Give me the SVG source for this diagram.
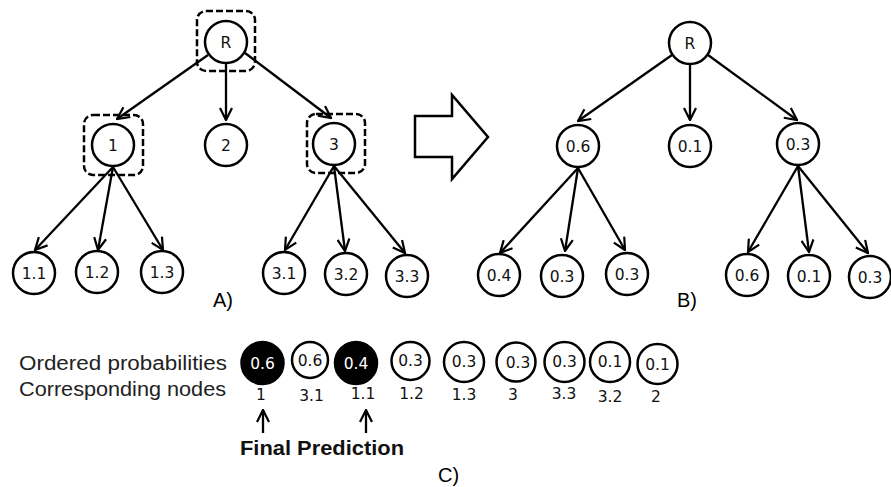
<svg xmlns="http://www.w3.org/2000/svg" width="891" height="487" viewBox="0 0 891 487">
<defs>
<marker id="arr" viewBox="0 0 14 14" refX="13" refY="7" markerWidth="14" markerHeight="14" markerUnits="userSpaceOnUse" orient="auto">
<path d="M1,1 L13,7 L1,13" fill="none" stroke="#000" stroke-width="2.2"/>
</marker>
<style>
.n{fill:#fff;stroke:#000;stroke-width:2.5}
.b{fill:#000;stroke:#000;stroke-width:2.5}
.t{font-family:"DejaVu Sans",sans-serif;font-size:15.5px;text-anchor:middle;fill:#111}
.w{font-family:"DejaVu Sans",sans-serif;font-size:15.5px;text-anchor:middle;fill:#fff}
.e{stroke:#000;stroke-width:2.3;fill:none;marker-end:url(#arr)}
.d{fill:none;stroke:#000;stroke-width:2.5;stroke-dasharray:7 3}
.lab{font-family:"Liberation Sans",Arial,sans-serif;font-size:20px;fill:#000}
.cap{font-family:"Liberation Sans",Arial,sans-serif;font-size:20px;fill:#222}
</style>
</defs>
<rect width="891" height="487" fill="#fff"/>

<g id="connectors">
<line class="e" x1="208" y1="55" x2="117" y2="119"/>
<line class="e" x1="226" y1="64" x2="226" y2="120"/>
<line class="e" x1="245" y1="53" x2="331" y2="118"/>
<line class="e" x1="113" y1="167" x2="35" y2="250"/>
<line class="e" x1="113" y1="167" x2="98" y2="250"/>
<line class="e" x1="113" y1="167" x2="163" y2="250"/>
<line class="e" x1="334" y1="166" x2="285" y2="250"/>
<line class="e" x1="334" y1="166" x2="345" y2="251"/>
<line class="e" x1="334" y1="166" x2="405" y2="253"/>
<line class="e" x1="672" y1="55" x2="578" y2="121"/>
<line class="e" x1="690" y1="65" x2="690" y2="120"/>
<line class="e" x1="708" y1="55" x2="797" y2="120"/>
<line class="e" x1="578" y1="168" x2="500" y2="253"/>
<line class="e" x1="578" y1="168" x2="565" y2="251"/>
<line class="e" x1="578" y1="168" x2="625" y2="250"/>
<line class="e" x1="798" y1="166" x2="748" y2="252"/>
<line class="e" x1="798" y1="166" x2="809" y2="252"/>
<line class="e" x1="798" y1="166" x2="868" y2="253"/>
<line class="e" x1="263" y1="433" x2="263" y2="410"/>
<line class="e" x1="366" y1="433" x2="366" y2="410"/>
</g>

<g id="highlights">
<rect class="d" x="197" y="11" width="58" height="60" rx="9"/>
<rect class="d" x="84" y="115" width="59" height="60" rx="9"/>
<rect class="d" x="307" y="114" width="58" height="59" rx="9"/>
</g>

<g id="A_R"><circle class="n" cx="226" cy="42" r="21"/><text class="t" x="226" y="47.5">R</text></g>
<g id="A_1"><circle class="n" cx="113" cy="145" r="21"/><text class="t" x="113" y="150.5">1</text></g>
<g id="A_2"><circle class="n" cx="226" cy="145" r="21"/><text class="t" x="226" y="150.5">2</text></g>
<g id="A_3"><circle class="n" cx="334" cy="144" r="21"/><text class="t" x="334" y="149.5">3</text></g>
<g id="A_1_1"><circle class="n" cx="34" cy="273" r="21"/><text class="t" x="34" y="278.5">1.1</text></g>
<g id="A_1_2"><circle class="n" cx="97" cy="272" r="21"/><text class="t" x="97" y="277.5">1.2</text></g>
<g id="A_1_3"><circle class="n" cx="162" cy="272" r="21"/><text class="t" x="162" y="277.5">1.3</text></g>
<g id="A_3_1"><circle class="n" cx="284" cy="273" r="21"/><text class="t" x="284" y="278.5">3.1</text></g>
<g id="A_3_2"><circle class="n" cx="346" cy="274" r="21"/><text class="t" x="346" y="279.5">3.2</text></g>
<g id="A_3_3"><circle class="n" cx="407" cy="276" r="21"/><text class="t" x="407" y="281.5">3.3</text></g>
<text class="lab" x="213" y="307">A)</text>

<g id="bigarrow"><polygon points="415,116 452,116 452,95 488,137 452,179 452,157 415,157" fill="#fff" stroke="#000" stroke-width="2.5"/></g>

<g id="B_R"><circle class="n" cx="690" cy="43" r="21"/><text class="t" x="690" y="48.5">R</text></g>
<g id="B_1"><circle class="n" cx="578" cy="146" r="21"/><text class="t" x="578" y="151.5">0.6</text></g>
<g id="B_2"><circle class="n" cx="690" cy="146" r="21"/><text class="t" x="690" y="151.5">0.1</text></g>
<g id="B_3"><circle class="n" cx="798" cy="144" r="21"/><text class="t" x="798" y="149.5">0.3</text></g>
<g id="B_1_1"><circle class="n" cx="499" cy="275" r="21"/><text class="t" x="499" y="280.5">0.4</text></g>
<g id="B_1_2"><circle class="n" cx="562" cy="276" r="21"/><text class="t" x="562" y="281.5">0.3</text></g>
<g id="B_1_3"><circle class="n" cx="627" cy="274" r="21"/><text class="t" x="627" y="279.5">0.3</text></g>
<g id="B_3_1"><circle class="n" cx="747" cy="275" r="21"/><text class="t" x="747" y="280.5">0.6</text></g>
<g id="B_3_2"><circle class="n" cx="809" cy="276" r="21"/><text class="t" x="809" y="281.5">0.1</text></g>
<g id="B_3_3"><circle class="n" cx="870" cy="277" r="21"/><text class="t" x="870" y="282.5">0.3</text></g>
<text class="lab" x="677" y="307">B)</text>

<g id="legend">
<text class="cap" x="19" y="370" textLength="208" lengthAdjust="spacingAndGlyphs">Ordered probabilities</text>
<text class="cap" x="19" y="396" textLength="207" lengthAdjust="spacingAndGlyphs">Corresponding nodes</text>
</g>

<g id="C_1"><circle class="b" cx="262.5" cy="363" r="21"/><text class="w" x="262.5" y="369">0.6</text><text class="t" x="261" y="400">1</text></g>
<g id="C_2"><circle class="n" cx="310" cy="360" r="18"/><text class="t" x="310" y="366">0.6</text><text class="t" x="311.5" y="401">3.1</text></g>
<g id="C_3"><circle class="b" cx="356" cy="363" r="21"/><text class="w" x="356" y="369">0.4</text><text class="t" x="363" y="399">1.1</text></g>
<g id="C_4"><circle class="n" cx="410.5" cy="361" r="19"/><text class="t" x="410.5" y="366">0.3</text><text class="t" x="411.5" y="399">1.2</text></g>
<g id="C_5"><circle class="n" cx="464" cy="362" r="20"/><text class="t" x="464" y="367">0.3</text><text class="t" x="464" y="400">1.3</text></g>
<g id="C_6"><circle class="n" cx="516" cy="362" r="19.5"/><text class="t" x="518" y="367.5">0.3</text><text class="t" x="513" y="400">3</text></g>
<g id="C_7"><circle class="n" cx="564.5" cy="362" r="20"/><text class="t" x="564.5" y="367">0.3</text><text class="t" x="564" y="399">3.3</text></g>
<g id="C_8"><circle class="n" cx="610" cy="362" r="20"/><text class="t" x="610" y="367">0.1</text><text class="t" x="610" y="402">3.2</text></g>
<g id="C_9"><circle class="n" cx="657.5" cy="364" r="20"/><text class="t" x="657.5" y="369.5">0.1</text><text class="t" x="656" y="402">2</text></g>

<text x="240" y="455" font-family="Liberation Sans, Arial, sans-serif" font-size="21" font-weight="bold" textLength="164" lengthAdjust="spacingAndGlyphs" fill="#111">Final Prediction</text>
<text class="lab" x="438" y="482">C)</text>
</svg>
